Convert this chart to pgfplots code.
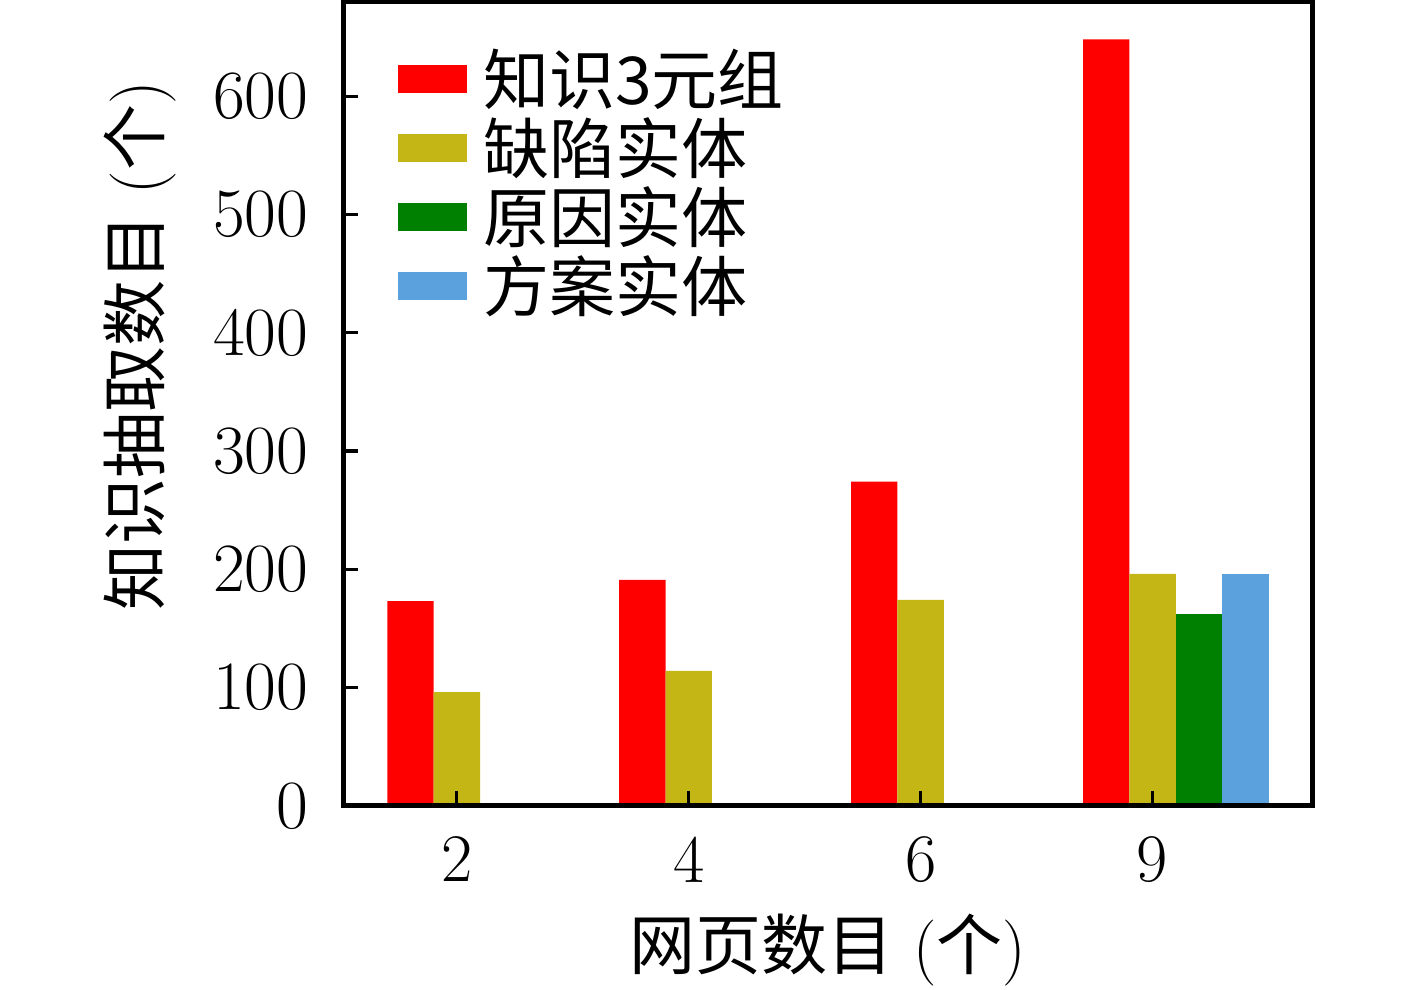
\documentclass[border=0pt]{standalone}
\usepackage{fontspec}
\usepackage{pgfplots}
\pgfplotsset{compat=1.18}
\newfontfamily\cjk{Noto Sans CJK SC}
\definecolor{cred}{RGB}{255,0,0}
\definecolor{cyel}{RGB}{196,182,20}
\definecolor{cgrn}{RGB}{0,128,0}
\definecolor{cblu}{RGB}{91,161,222}
\begin{document}
\begin{tikzpicture}[font=\fontsize{16.5}{19}\selectfont]
\begin{axis}[
  at={(0,0)}, anchor=south west,
  scale only axis, width=242.3pt, height=201pt,
  xmin=-0.49, xmax=3.69, ymin=0, ymax=680,
  xtick={0,1,2,3}, xticklabels={2,4,6,9},
  ytick={0,100,...,600},
  xtick pos=bottom, ytick pos=left,
  tick align=inside, major tick length=3.75pt,
  tick style={line width=0.8pt, black},
  axis line style={line width=1.2pt},
  axis on top,
  tick label style={font=\fontsize{17}{20}\selectfont},
  yticklabel style={xshift=-5.2pt},
  xticklabel style={yshift=-4.2pt},
  xlabel={{\cjk 网页数目} ({\cjk 个})},
  ylabel={{\cjk 知识抽取数目} ({\cjk 个})},
  xlabel style={at={(axis description cs:0.5,0)}, anchor=center, yshift=-36pt},
  ylabel style={at={(axis description cs:-0.2092,0.572)}, anchor=center},
  legend style={draw=none, fill=none, at={(axis description cs:0.0434,1)}, anchor=north west,
    yshift=-8.6pt, nodes={inner sep=0pt, text height=14.9pt, text depth=2.35pt}, font=\fontsize{16.5}{19}\selectfont\cjk,
    /tikz/every odd column/.style={column sep=4pt}},
  legend cell align=left,
  legend image code/.code={\fill[#1] (0pt,-3.5pt) rectangle (17.25pt,3.5pt);},
]
\addplot[ybar, bar width=0.2, bar shift=0pt, fill=cred, draw=none] coordinates {(-0.2,173) (0.8,191) (1.8,274) (2.8,648)};
\addlegendentry{知识3元组}
\addplot[ybar, bar width=0.2, bar shift=0pt, fill=cyel, draw=none] coordinates {(0,96) (1,114) (2,174) (3,196)};
\addlegendentry{缺陷实体}
\addplot[ybar, bar width=0.2, bar shift=0pt, fill=cgrn, draw=none] coordinates {(3.2,162)};
\addlegendentry{原因实体}
\addplot[ybar, bar width=0.2, bar shift=0pt, fill=cblu, draw=none] coordinates {(3.4,196)};
\addlegendentry{方案实体}
\end{axis}
\pgfresetboundingbox
\path[use as bounding box] (-85.8pt,-45.9pt) rectangle (268.4pt,201.4pt);
\end{tikzpicture}
\end{document}
